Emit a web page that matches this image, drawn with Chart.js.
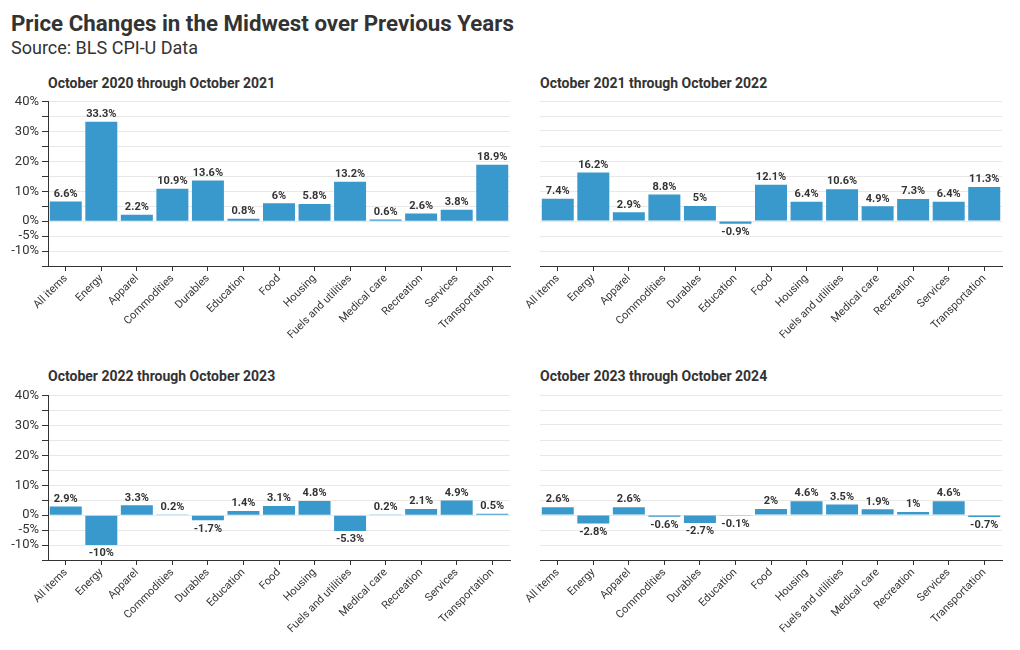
<!DOCTYPE html>
<html>
<head>
<meta charset="utf-8">
<script src="https://cdn.jsdelivr.net/npm/chart.js@4"></script>
<style>
  body { margin: 0; background: #fff; font-family: Roboto, sans-serif; color: #333; }
  .page { position: relative; width: 1020px; height: 650px; }
  .title { position: absolute; left: 11px; top: 10px; font-size: 22.3px; font-weight: 700; line-height: 26px; }
  .subtitle { position: absolute; left: 11px; top: 38px; font-size: 18px; line-height: 20px; }
  .panel-title { position: absolute; font-size: 14px; font-weight: 700; line-height: 16px; }
  canvas { position: absolute; }
</style>
</head>
<body>
<div class="page">
  <div class="title">Price Changes in the Midwest over Previous Years</div>
  <div class="subtitle">Source: BLS CPI-U Data</div>
  <div class="panel-title" style="left:48px; top:75px;">October 2020 through October 2021</div>
  <div class="panel-title" style="left:540px; top:75px;">October 2021 through October 2022</div>
  <div class="panel-title" style="left:48px; top:368px;">October 2022 through October 2023</div>
  <div class="panel-title" style="left:540px; top:368px;">October 2023 through October 2024</div>
  <canvas id="chart-2021" width="520" height="255" style="left:0; top:91px;"></canvas>
  <canvas id="chart-2022" width="500" height="255" style="left:520px; top:91px;"></canvas>
  <canvas id="chart-2023" width="520" height="255" style="left:0; top:385px;"></canvas>
  <canvas id="chart-2024" width="500" height="255" style="left:520px; top:385px;"></canvas>
</div>
<script>
// Categories and yearly percent changes
const categories = ["All items", "Energy", "Apparel", "Commodities", "Durables", "Education", "Food",
    "Housing", "Fuels and utilities", "Medical care", "Recreation", "Services", "Transportation"];
const change2021 = [6.6, 33.3, 2.2, 10.9, 13.6, 0.8, 6, 5.8, 13.2, 0.6, 2.6, 3.8, 18.9];
const change2022 = [7.4, 16.2, 2.9, 8.8, 5, -0.9, 12.1, 6.4, 10.6, 4.9, 7.3, 6.4, 11.3];
const change2023 = [2.9, -10, 3.3, 0.2, -1.7, 1.4, 3.1, 4.8, -5.3, 0.2, 2.1, 4.9, 0.5];
const change2024 = [2.6, -2.8, 2.6, -0.6, -2.7, -0.1, 2, 4.6, 3.5, 1.9, 1, 4.6, -0.7];
const labelledTicks = [40, 30, 20, 10, 0, -5, -10];

const barColor = "#3998cc";
const textColor = "#333";

// Value labels above (or below) each bar
const valueLabels = {
    id: "valueLabels",
    afterDatasetsDraw(chart) {
        const ctx = chart.ctx;
        const values = chart.data.datasets[0].data;
        ctx.save();
        ctx.font = "bold 11px Roboto";
        ctx.fillStyle = textColor;
        ctx.textAlign = "center";
        chart.getDatasetMeta(0).data.forEach((bar, i) => {
            const v = values[i];
            if (v >= 0) {
                ctx.textBaseline = "bottom";
                ctx.fillText(v + "%", bar.x, bar.y - 2);
            } else {
                ctx.textBaseline = "top";
                ctx.fillText(v + "%", bar.x, bar.y + 3);
            }
        });
        ctx.restore();
    }
};

function makeChart(id, values, showAxis) {
    return new Chart(document.getElementById(id), {
        type: "bar",
        data: {
            labels: categories,
            datasets: [{
                data: values,
                backgroundColor: barColor,
                barPercentage: 0.9,
                categoryPercentage: 1.0,
            }],
        },
        options: {
            responsive: false,
            animation: false,
            devicePixelRatio: 1,
            layout: { padding: { top: 10, right: showAxis ? 10 : 18, left: 0, bottom: 0 } },
            plugins: { legend: { display: false }, tooltip: { enabled: false } },
            scales: {
                x: {
                    offset: true,
                    grid: { offset: false, drawOnChartArea: false, tickLength: 5, tickColor: textColor },
                    border: { color: textColor },
                    ticks: {
                        autoSkip: false, minRotation: 45, maxRotation: 45,
                        color: textColor, font: { family: "Roboto", size: 11 }, padding: 1,
                    },
                    afterFit: s => { s.height = 80; },
                },
                y: {
                    min: -15,
                    max: 40,
                    ticks: {
                        display: showAxis,
                        stepSize: 5,
                        autoSkip: false,
                        color: textColor,
                        font: { family: "Roboto", size: 13 },
                        padding: 3,
                        callback: v => labelledTicks.includes(v) ? v + "%" : "",
                    },
                    grid: {
                        color: c => c.tick && c.tick.value === -15 ? "rgba(0,0,0,0)" : "#e8e8e8",
                        tickColor: textColor,
                        tickLength: 6,
                        drawTicks: showAxis,
                    },
                    border: { display: showAxis, color: textColor },
                    afterFit: s => { s.width = showAxis ? 48 : 20; },
                },
            },
        },
        plugins: [valueLabels],
    });
}

document.addEventListener("DOMContentLoaded", () => {
    makeChart("chart-2021", change2021, true);
    makeChart("chart-2022", change2022, false);
    makeChart("chart-2023", change2023, true);
    makeChart("chart-2024", change2024, false);
});
</script>
</body>
</html>
